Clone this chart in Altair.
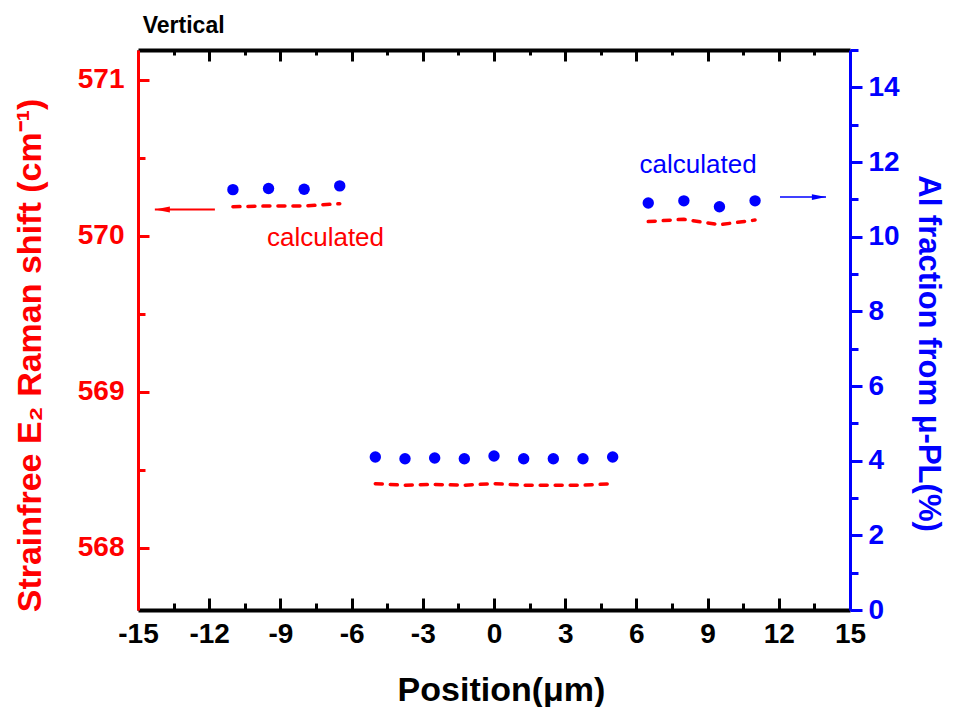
import altair as alt
import pandas as pd

# ---- data ----
positions_left = [-11.0, -9.5, -8.0, -6.5]
positions_mid = [-5.0, -3.75, -2.5, -1.25, 0.0, 1.25, 2.5, 3.75, 5.0]
positions_right = [6.5, 8.0, 9.5, 11.0]

raman_left = [570.185, 570.19, 570.19, 570.205]
raman_mid = [568.41, 568.40, 568.405, 568.40, 568.41, 568.40, 568.40, 568.40, 568.41]
raman_right = [570.09, 570.105, 570.07, 570.10]

al_left = [11.26, 11.29, 11.27, 11.36]
al_mid = [4.10, 4.05, 4.07, 4.05, 4.125, 4.05, 4.05, 4.05, 4.10]
al_right = [10.90, 10.96, 10.80, 10.96]

x_major = [-15, -12, -9, -6, -3, 0, 3, 6, 9, 12, 15]
x_minor = [-13.5, -10.5, -7.5, -4.5, -1.5, 1.5, 4.5, 7.5, 10.5, 13.5]
raman_major = [568, 569, 570, 571]
raman_minor = [568.5, 569.5, 570.5]
al_major = [0, 2, 4, 6, 8, 10, 12, 14]
al_minor = [1, 3, 5, 7, 9, 11, 13, 15]

# annotations
red_label_pos = [-7.1]
red_label_raman = [569.936]
blue_label_pos = [8.6]
blue_label_al = [11.71]
red_arrow_start = [-11.76]
red_arrow_tip = [-14.29]
red_arrow_raman = [570.167]
blue_arrow_start = [12.05]
blue_arrow_tip = [13.99]
blue_arrow_al = [11.06]
title_pos = [-14.8]
title_raman = [571.30]
title_text = ["Vertical"]

RED = "#ff0000"
BLUE = "#0000ff"
FONT = "Liberation Sans"
HYPHEN_LABEL = "datum.value < 0 ? '-' + abs(datum.value) : '' + datum.value"

groups = (["left"] * len(positions_left) + ["mid"] * len(positions_mid)
          + ["right"] * len(positions_right))
df = pd.DataFrame({
    "position": positions_left + positions_mid + positions_right,
    "raman": raman_left + raman_mid + raman_right,
    "al": al_left + al_mid + al_right,
    "group": groups,
})
red_lab = pd.DataFrame({"position": red_label_pos, "raman": red_label_raman, "label": ["calculated"]})
blue_lab = pd.DataFrame({"position": blue_label_pos, "al": blue_label_al, "label": ["calculated"]})
red_arr = pd.DataFrame({"start": red_arrow_start, "tip": red_arrow_tip, "raman": red_arrow_raman})
blue_arr = pd.DataFrame({"start": blue_arrow_start, "tip": blue_arrow_tip, "al": blue_arrow_al})
title_df = pd.DataFrame({"position": title_pos, "raman": title_raman, "label": title_text})

xscale = alt.Scale(domain=[-15, 15], nice=False, zero=False)
rscale = alt.Scale(domain=[567.6, 571.19], nice=False, zero=False)
ascale = alt.Scale(domain=[0, 15], nice=False, zero=False)


def tick_axis(orient, values, size, color, offset=True):
    return alt.Axis(orient=orient, values=values, labels=False, domain=False,
                    tickSize=size, tickWidth=3, tickColor=color,
                    offset=-size if offset else 0, title=None, grid=False)


x_bottom_main = alt.Axis(
    orient="bottom", values=x_major, ticks=False, tickSize=0,
    labelFont=FONT, labelFontSize=28, labelFontWeight="bold", labelColor="black",
    labelPadding=10, labelFlush=False, labelOverlap=False, labelExpr=HYPHEN_LABEL,
    domainColor="black", domainWidth=4,
    title="Position(μm)", titleFont=FONT, titleFontSize=34, titleFontWeight="bold",
    titleColor="black", titleX=363, titleY=80, titleBaseline="middle", titleAlign="center",
    grid=False)
x_top_domain = alt.Axis(orient="top", ticks=False, labels=False, domainColor="black",
                        domainWidth=4, title=None, grid=False)

y_left_main = alt.Axis(
    orient="left", values=raman_major, ticks=False, tickSize=0,
    labelFont=FONT, labelFontSize=28, labelFontWeight="bold", labelColor=RED,
    labelPadding=14, labelOverlap=False, labelFlush=False,
    domainColor=RED, domainWidth=3,
    title="Strainfree E₂ Raman shift (cm⁻¹)", titleFont=FONT, titleFontSize=34,
    titleFontWeight="bold", titleColor=RED, titleAngle=270, titleX=-108, titleY=305,
    titleAlign="center", titleBaseline="middle", grid=False)
y_right_main = alt.Axis(
    orient="right", values=al_major, tickSize=12, tickWidth=3, tickColor=BLUE,
    labelFont=FONT, labelFontSize=28, labelFontWeight="bold", labelColor=BLUE,
    labelPadding=6, labelOverlap=False, labelFlush=False,
    domainColor=BLUE, domainWidth=3,
    title="Al fraction from μ-PL(%)", titleFont=FONT, titleFontSize=31,
    titleFontWeight="bold", titleColor=BLUE, titleAngle=90, titleX=77, titleY=303,
    titleAlign="center", titleBaseline="middle", grid=False)

# ---- left (red) group ----
red_line = alt.Chart(df).mark_line(
    color=RED, strokeWidth=3.5, strokeDash=[7, 8], strokeCap="round"
).encode(
    x=alt.X("position:Q", scale=xscale, axis=x_bottom_main),
    y=alt.Y("raman:Q", scale=rscale, axis=y_left_main),
    detail="group:N",
)
red_text = alt.Chart(red_lab).mark_text(
    color=RED, font=FONT, fontSize=26, align="center", baseline="alphabetic"
).encode(
    x=alt.X("position:Q", scale=xscale, axis=tick_axis("bottom", x_major, 12, "black")),
    y=alt.Y("raman:Q", scale=rscale, axis=tick_axis("left", raman_major, 11, RED)),
    text="label:N",
)
red_rule = alt.Chart(red_arr).mark_rule(color=RED, strokeWidth=2).encode(
    x=alt.X("start:Q", scale=xscale, axis=tick_axis("bottom", x_minor, 7, "black")),
    x2="tip:Q",
    y=alt.Y("raman:Q", scale=rscale, axis=tick_axis("left", raman_minor, 7, RED)),
)
red_head = alt.Chart(red_arr).mark_point(
    shape="M0,0L2,-0.4L2,0.4Z", filled=True, fill=RED, color=RED, opacity=1, size=225
).encode(
    x=alt.X("tip:Q", scale=xscale, axis=x_top_domain),
    y=alt.Y("raman:Q", scale=rscale, axis=None),
)
title_mark = alt.Chart(title_df).mark_text(
    color="black", font=FONT, fontSize=23, fontWeight="bold", align="left",
    baseline="alphabetic"
).encode(
    x=alt.X("position:Q", scale=xscale, axis=None),
    y=alt.Y("raman:Q", scale=rscale, axis=None),
    text="label:N",
)
left_group = alt.layer(red_line, red_text, red_rule, red_head, title_mark).resolve_axis(
    x="independent", y="independent")

# ---- right (blue) group ----
blue_pts = alt.Chart(df).mark_circle(color=BLUE, size=130, opacity=1).encode(
    x=alt.X("position:Q", scale=xscale, axis=tick_axis("top", x_major, 11, "black")),
    y=alt.Y("al:Q", scale=ascale, axis=y_right_main),
)
blue_text = alt.Chart(blue_lab).mark_text(
    color=BLUE, font=FONT, fontSize=26, align="center", baseline="alphabetic"
).encode(
    x=alt.X("position:Q", scale=xscale, axis=tick_axis("top", x_minor, 5, "black")),
    y=alt.Y("al:Q", scale=ascale, axis=tick_axis("right", al_minor, 8, BLUE, offset=False)),
    text="label:N",
)
blue_rule = alt.Chart(blue_arr).mark_rule(color=BLUE, strokeWidth=1.5).encode(
    x=alt.X("start:Q", scale=xscale, axis=None),
    x2="tip:Q",
    y=alt.Y("al:Q", scale=ascale, axis=None),
)
blue_head = alt.Chart(blue_arr).mark_point(
    shape="M0,0L-2,-0.4L-2,0.4Z", filled=True, fill=BLUE, color=BLUE, opacity=1, size=200
).encode(
    x=alt.X("tip:Q", scale=xscale, axis=None),
    y=alt.Y("al:Q", scale=ascale, axis=None),
)
right_group = alt.layer(blue_pts, blue_text, blue_rule, blue_head).resolve_axis(
    x="independent", y="independent")

chart = alt.layer(left_group, right_group).resolve_scale(
    y="independent"
).resolve_axis(
    x="independent", y="independent"
).properties(
    width=712, height=560,
    autosize=alt.AutoSizeParams(type="none"),
    padding={"left": 130, "top": 42, "right": 97, "bottom": 97},
).configure_view(strokeWidth=0).configure_axis(grid=False)

chart.save("out.html", embed_options={"renderer": "svg", "actions": False})
